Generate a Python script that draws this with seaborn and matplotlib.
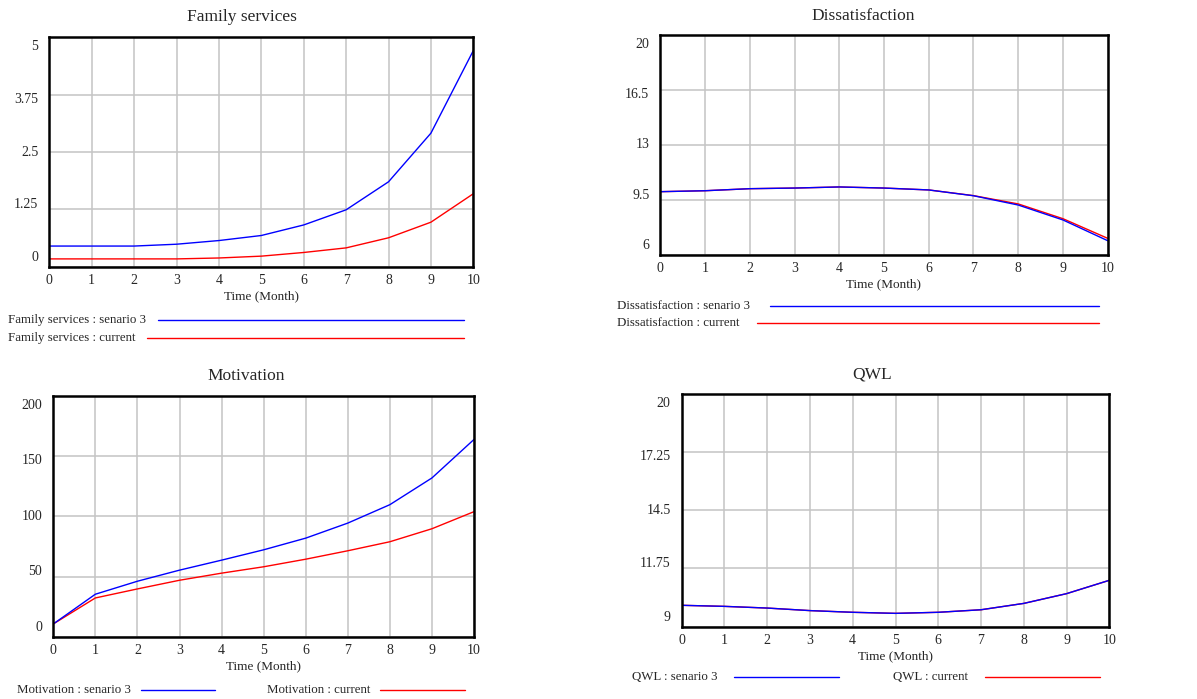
import numpy as np
import pandas as pd
import matplotlib
matplotlib.use("Agg")
import matplotlib.pyplot as plt
import seaborn as sns
from matplotlib.lines import Line2D
from matplotlib.transforms import ScaledTranslation, blended_transform_factory

W, H = 1197, 699

# ── data ──────────────────────────────────────────────────────────────────
months = list(range(11))

family_senario3 = [0.45, 0.45, 0.45, 0.49, 0.57, 0.68, 0.91, 1.24, 1.85, 2.91, 4.71]
family_current = [0.17, 0.17, 0.17, 0.17, 0.19, 0.23, 0.31, 0.41, 0.63, 0.97, 1.59]

dissat_senario3 = [10.03, 10.09, 10.22, 10.26, 10.33, 10.26, 10.14, 9.77, 9.18, 8.23, 6.91]
dissat_current = [10.03, 10.09, 10.22, 10.26, 10.33, 10.26, 10.14, 9.78, 9.25, 8.31, 7.06]

motivation_senario3 = [10.6, 35.3, 46.1, 55.3, 63.6, 72.2, 81.9, 94.4, 109.7, 131.9, 163.9]
motivation_current = [10.6, 32.2, 39.7, 46.9, 52.8, 58.1, 64.4, 71.4, 78.9, 89.7, 103.9]

qwl_senario3 = [10.01, 9.96, 9.88, 9.76, 9.68, 9.63, 9.68, 9.80, 10.10, 10.56, 11.19]
qwl_current = [10.01, 9.96, 9.88, 9.76, 9.68, 9.63, 9.68, 9.80, 10.10, 10.56, 11.19]

family_ticks = [0, 1.25, 2.5, 3.75, 5]
family_labels = ['0', '1.25', '2.5', '3.75', '5']
dissat_ticks = [6, 9.5, 13, 16.5, 20]
dissat_labels = ['6', '9.5', '13', '16.5', '20']
motivation_ticks = [0, 50, 100, 150, 200]
motivation_labels = ['0', '50', '100', '150', '200']
qwl_ticks = [9, 11.75, 14.5, 17.25, 20]
qwl_labels = ['9', '11.75', '14.5', '17.25', '20']

BLUE = '#0000ff'
RED = '#ff0000'

sns.set_style("white")
plt.rcParams['font.family'] = ['Liberation Serif', 'DejaVu Serif']

fig = plt.figure(figsize=(W / 100, H / 100), dpi=100)


def fig_text(x, y, s, **kw):
    fig.text(x / W, 1 - y / H, s, **kw)


def legend_row(label, tx, color, x0, x1, y):
    fig_text(tx, y, label, ha='left', va='center', fontsize=9.3)
    fig.add_artist(Line2D([x0 / W, x1 / W], [1 - y / H, 1 - y / H],
                          transform=fig.transFigure, color=color, lw=1.0))


def draw_panel(box, title, title_xy, s3, cur, yticks, ylabels):
    left, top, right, bottom = box
    ax = fig.add_axes([left / W, 1 - bottom / H, (right - left) / W, (bottom - top) / H])

    df = pd.DataFrame({
        'Time': months * 2,
        'value': cur + s3,
        'run': ['current'] * len(months) + ['senario 3'] * len(months),
    })
    sns.lineplot(data=df, x='Time', y='value', hue='run',
                 hue_order=['current', 'senario 3'],
                 palette={'current': RED, 'senario 3': BLUE},
                 linewidth=1.0, legend=False, ax=ax)

    ax.set_xlim(0, 10)
    ax.set_ylim(yticks[0], yticks[-1])
    ax.set_xticks(months)
    ax.set_yticks(yticks)
    ax.set_yticklabels([])
    ax.grid(True, color='#c4c4c4', lw=1.1)
    ax.tick_params(length=0, labelsize=10, pad=5)
    ax.set_xlabel('Time (Month)', fontsize=9.5, labelpad=2.5)
    ax.set_ylabel('')
    for sp in ax.spines.values():
        sp.set_visible(True)
        sp.set_color('black')
        sp.set_linewidth(1.8)

    # Vensim spreads the y labels from just inside the top to just inside the bottom
    trans = blended_transform_factory(ax.transAxes, ax.transData)
    n = len(yticks)
    for i, (v, lab) in enumerate(zip(yticks, ylabels)):
        dy = 9.5 - 19 * i / (n - 1)
        off = ScaledTranslation(-11 / 100, dy / 100, fig.dpi_scale_trans)
        ax.text(0, v, lab, transform=trans + off, ha='right', va='center', fontsize=10)

    fig_text(title_xy[0], title_xy[1], title, ha='center', va='center', fontsize=12.5)
    return ax


draw_panel((49.3, 37.3, 473.3, 266.7), 'Family services', (241.7, 16.7),
           family_senario3, family_current, family_ticks, family_labels)
legend_row('Family services : senario 3', 8, BLUE, 158, 464, 320)
legend_row('Family services : current', 8, RED, 147, 464, 338)

draw_panel((660.3, 35, 1107.7, 255), 'Dissatisfaction', (863.3, 15.7),
           dissat_senario3, dissat_current, dissat_ticks, dissat_labels)
legend_row('Dissatisfaction : senario 3', 617, BLUE, 770, 1099, 306)
legend_row('Dissatisfaction : current', 617, RED, 757, 1099, 323)

draw_panel((53.3, 396, 474, 636.7), 'Motivation', (246.7, 375.7),
           motivation_senario3, motivation_current, motivation_ticks, motivation_labels)
legend_row('Motivation : senario 3', 17, BLUE, 141, 215, 690)
legend_row('Motivation : current', 266.7, RED, 380, 465, 690)

draw_panel((681.7, 393.7, 1109.3, 626.7), 'QWL', (871.7, 374.3),
           qwl_senario3, qwl_current, qwl_ticks, qwl_labels)
legend_row('QWL : senario 3', 631.7, BLUE, 734, 839, 677)
legend_row('QWL : current', 893.3, RED, 985, 1100, 677)

plt.savefig('out.png', dpi=100)
plt.close()
